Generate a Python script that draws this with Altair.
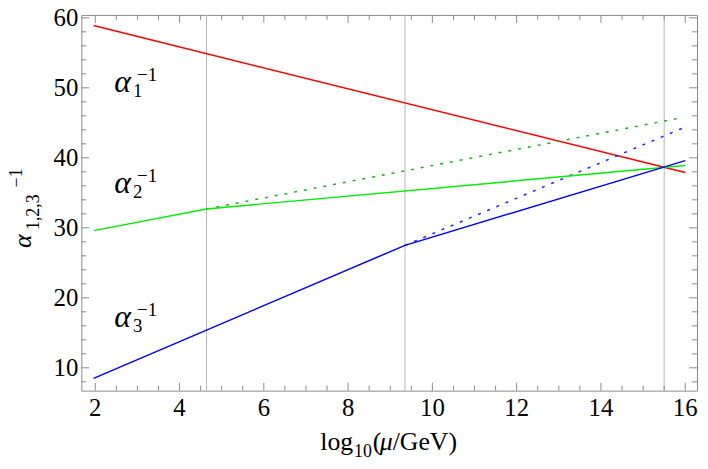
import altair as alt
import pandas as pd
import numpy as np

# ---- data ----
red_x = [1.96, 16.0]
red_y = [58.9, 37.9]
green_x = [1.96, 4.64, 16.0]
green_y = [29.6, 32.7, 38.9]
green_dot_x = [4.64, 15.8]
green_dot_y = [32.7, 45.6]
blue_x = [1.96, 9.35, 16.0]
blue_y = [8.5, 27.5, 39.6]
blue_dot_x = [9.35, 16.0]
blue_dot_y = [27.5, 44.4]
thresholds = [4.64, 9.35, 15.5]

x_major = [2, 4, 6, 8, 10, 12, 14, 16]
x_minor = [v / 2 for v in range(4, 33) if v % 4 != 0]
y_major = [10, 20, 30, 40, 50, 60]
y_minor = [v for v in range(8, 61, 2) if v % 10 != 0]

lab_x = [2.45, 2.45, 2.45]
lab_y = [49.36, 34.93, 15.88]
lab_sub = ["1", "2", "3"]

W, H = 621, 379
XD = [1.67, 16.28]
YD = [6.74, 60.42]
FONT = "Times New Roman, Liberation Serif, serif"
FRAME = "#8a8a8a"

xs = alt.Scale(domain=XD, nice=False, zero=False)
ys = alt.Scale(domain=YD, nice=False, zero=False)


def X(field="x"):
    return alt.X(f"{field}:Q", scale=xs, axis=None)


def Y(field="y"):
    return alt.Y(f"{field}:Q", scale=ys, axis=None)


def line(xv, yv, color, dash=None):
    df = pd.DataFrame({"x": xv, "y": yv})
    kw = dict(color=color, strokeWidth=1.5, clip=True)
    if dash:
        kw["strokeDash"] = dash
    return alt.Chart(df).mark_line(**kw).encode(x=X(), y=Y())


def xticks(vals, length, top):
    df = pd.DataFrame({"x": vals})
    if top:
        enc = dict(y=alt.value(0), y2=alt.value(length))
    else:
        enc = dict(y=alt.value(H), y2=alt.value(H - length))
    return alt.Chart(df).mark_rule(color=FRAME, strokeWidth=1).encode(x=X(), **enc)


def yticks(vals, length, right):
    df = pd.DataFrame({"y": vals})
    if right:
        enc = dict(x=alt.value(W), x2=alt.value(W - length))
    else:
        enc = dict(x=alt.value(0), x2=alt.value(length))
    return alt.Chart(df).mark_rule(color=FRAME, strokeWidth=1).encode(y=Y(), **enc)


# tick labels
xlab = alt.Chart(pd.DataFrame({"x": x_major, "t": [str(v) for v in x_major]})).mark_text(
    font=FONT, fontSize=25, align="center", baseline="top", color="black").encode(
    x=X(), y=alt.value(H + 6), text="t:N")
ylab = alt.Chart(pd.DataFrame({"y": y_major, "t": [str(v) for v in y_major]})).mark_text(
    font=FONT, fontSize=25, align="right", baseline="middle", color="black").encode(
    y=Y(), x=alt.value(-3), text="t:N")

vlines = alt.Chart(pd.DataFrame({"x": thresholds})).mark_rule(
    color="#b5b5b5", strokeWidth=1).encode(x=X(), y=alt.value(0), y2=alt.value(H))

labels_df = pd.DataFrame({"x": lab_x, "y": lab_y, "sub": lab_sub, "a": ["α"] * 3, "sup": ["−1"] * 3})
lab_alpha = alt.Chart(labels_df).mark_text(
    font=FONT, fontSize=32, fontStyle="italic", align="left", baseline="alphabetic").encode(
    x=X(), y=Y(), text="a:N")
lab_sub_m = alt.Chart(labels_df).mark_text(
    font=FONT, fontSize=19, align="left", baseline="alphabetic", dx=19, dy=5).encode(
    x=X(), y=Y(), text="sub:N")
lab_sup_m = alt.Chart(labels_df).mark_text(
    font=FONT, fontSize=19, align="left", baseline="alphabetic", dx=23, dy=-11).encode(
    x=X(), y=Y(), text="sup:N")


def ptext(txt, px, py, size, italic=False, angle=0):
    kw = dict(font=FONT, fontSize=size, align="left", baseline="alphabetic", color="black")
    if italic:
        kw["fontStyle"] = "italic"
    if angle:
        kw["angle"] = angle
    return alt.Chart(pd.DataFrame({"t": [txt]})).mark_text(**kw).encode(
        x=alt.value(px), y=alt.value(py), text="t:N")


# x title: log10(mu/GeV)  (plot top is at page y 13)
TB = 439
xtitle = [
    ptext("log", 241, TB, 26),
    ptext("10", 275, TB + 7, 18),
    ptext("(", 294, TB, 26),
    ptext("μ", 301, TB, 26, italic=True),
    ptext("/GeV)", 314, TB, 26),
]
# y title: alpha_{1,2,3}^{-1}, rotated
ytitle = [
    ptext("α", -51, 235, 26, italic=True, angle=270),
    ptext("1,2,3", -43, 217, 18, angle=270),
    ptext("−1", -60, 174, 18, angle=270),
]

layers = [vlines,
          line(red_x, red_y, "#ff0000"),
          line(green_dot_x, green_dot_y, "#22a822", dash=[3, 7]),
          line(blue_dot_x, blue_dot_y, "#1f1fff", dash=[3, 7]),
          line(green_x, green_y, "#00ee00"),
          line(blue_x, blue_y, "#0000ff"),
          xticks(x_major, 8, False), xticks(x_minor, 5, False),
          xticks(x_major, 8, True), xticks(x_minor, 5, True),
          yticks(y_major, 8, False), yticks(y_minor, 5, False),
          yticks(y_major, 8, True), yticks(y_minor, 5, True),
          xlab, ylab,
          lab_alpha, lab_sub_m, lab_sup_m] + xtitle + ytitle

chart = alt.layer(*layers).properties(
    width=W, height=H,
    autosize=alt.AutoSizeParams(type="none"),
    padding={"left": 74, "top": 5, "right": 3, "bottom": 68},
).configure_view(stroke=FRAME, strokeWidth=1)

chart.save("out.html", embed_options={"renderer": "svg", "actions": False})
